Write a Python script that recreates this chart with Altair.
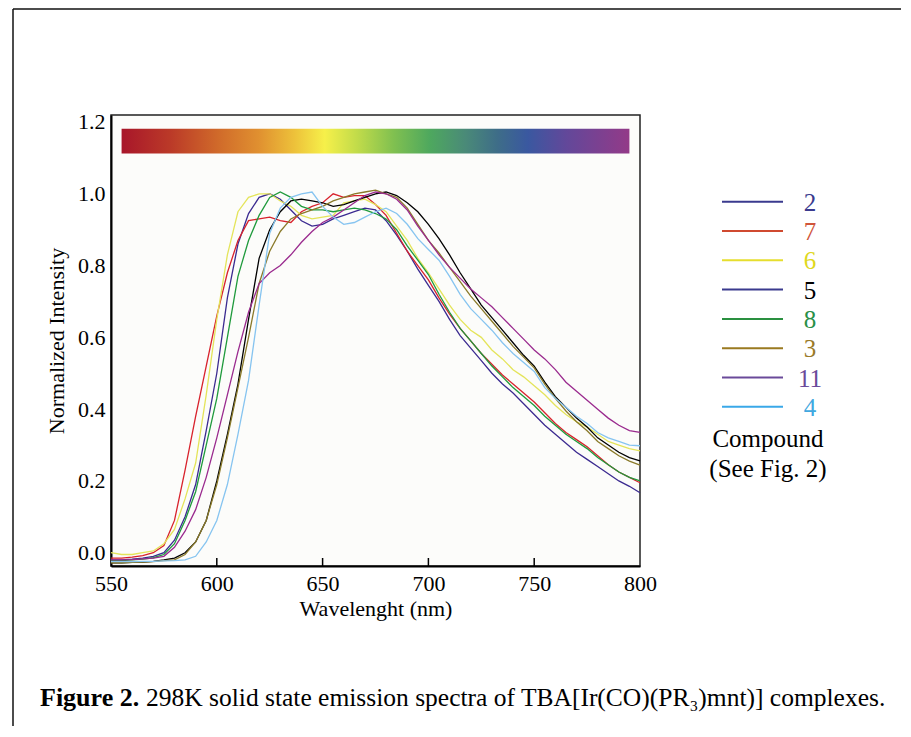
import altair as alt
import pandas as pd

# ---------------- data ----------------
wavelength = list(range(550, 805, 5))

compounds = ["2", "7", "6", "5", "8", "3", "11", "4"]

c2 = [-0.02, -0.02, -0.018, -0.015, -0.01, 0.0, 0.035, 0.10, 0.19, 0.34, 0.50, 0.71, 0.86, 0.945, 0.99, 1.0,
      0.985, 0.955, 0.925, 0.91, 0.915, 0.93, 0.94, 0.95, 0.96, 0.955, 0.925, 0.885, 0.84, 0.79, 0.745,
      0.70, 0.65, 0.605, 0.57, 0.535, 0.50, 0.47, 0.445, 0.415, 0.385, 0.355, 0.33, 0.305, 0.28, 0.26,
      0.24, 0.22, 0.20, 0.185, 0.167]
c7 = [-0.015, -0.015, -0.012, -0.008, 0.0, 0.02, 0.09, 0.23, 0.38, 0.52, 0.66, 0.78, 0.87, 0.925, 0.93, 0.935,
      0.925, 0.92, 0.95, 0.965, 0.975, 1.0, 0.99, 0.995, 0.995, 0.97, 0.94, 0.89, 0.84, 0.80, 0.76,
      0.71, 0.665, 0.625, 0.59, 0.555, 0.525, 0.495, 0.47, 0.445, 0.42, 0.39, 0.36, 0.335, 0.315, 0.295,
      0.27, 0.245, 0.225, 0.21, 0.195]
c6 = [0.0, -0.005, -0.005, 0.0, 0.005, 0.025, 0.065, 0.15, 0.25, 0.44, 0.65, 0.83, 0.95, 0.99, 1.0, 1.0,
      0.98, 0.965, 0.94, 0.93, 0.935, 0.94, 0.975, 0.98, 0.985, 0.97, 0.95, 0.91, 0.87, 0.82, 0.78,
      0.735, 0.69, 0.65, 0.62, 0.60, 0.565, 0.54, 0.51, 0.49, 0.465, 0.44, 0.41, 0.385, 0.365, 0.35,
      0.33, 0.31, 0.30, 0.29, 0.284]
c5 = [-0.028, -0.028, -0.027, -0.026, -0.024, -0.02, -0.015, 0.0, 0.03, 0.09, 0.20, 0.33, 0.47, 0.65, 0.82, 0.90,
      0.95, 0.98, 0.985, 0.98, 0.975, 0.965, 0.97, 0.98, 0.99, 1.0, 1.005, 0.995, 0.975, 0.95, 0.915,
      0.875, 0.83, 0.78, 0.735, 0.69, 0.655, 0.62, 0.585, 0.55, 0.52, 0.475, 0.435, 0.405, 0.375, 0.35,
      0.32, 0.30, 0.28, 0.265, 0.256]
c8 = [-0.022, -0.022, -0.02, -0.018, -0.014, -0.005, 0.025, 0.09, 0.17, 0.30, 0.43, 0.60, 0.77, 0.87, 0.94, 0.99,
      1.005, 0.99, 0.965, 0.955, 0.955, 0.95, 0.955, 0.96, 0.955, 0.945, 0.93, 0.90, 0.855, 0.815, 0.775,
      0.72, 0.67, 0.625, 0.59, 0.555, 0.52, 0.49, 0.46, 0.435, 0.41, 0.38, 0.355, 0.33, 0.31, 0.29,
      0.265, 0.245, 0.225, 0.21, 0.20]
c3 = [-0.028, -0.028, -0.027, -0.026, -0.025, -0.022, -0.02, -0.005, 0.03, 0.09, 0.19, 0.32, 0.46, 0.60, 0.75, 0.84,
      0.895, 0.93, 0.945, 0.955, 0.965, 0.98, 0.99, 1.0, 1.005, 1.01, 1.0, 0.99, 0.96, 0.915, 0.87,
      0.835, 0.795, 0.755, 0.715, 0.68, 0.645, 0.61, 0.575, 0.545, 0.515, 0.47, 0.43, 0.395, 0.365, 0.34,
      0.31, 0.29, 0.27, 0.255, 0.244]
c11 = [-0.02, -0.02, -0.019, -0.017, -0.015, -0.01, 0.015, 0.06, 0.12, 0.21, 0.32, 0.44, 0.56, 0.67, 0.75, 0.78,
       0.80, 0.83, 0.865, 0.895, 0.92, 0.935, 0.955, 0.975, 0.995, 1.005, 1.0, 0.985, 0.955, 0.91, 0.87,
       0.83, 0.795, 0.765, 0.735, 0.71, 0.685, 0.655, 0.625, 0.595, 0.565, 0.54, 0.51, 0.475, 0.45, 0.425,
       0.40, 0.375, 0.355, 0.34, 0.335]
c4 = [-0.025, -0.025, -0.025, -0.024, -0.024, -0.023, -0.022, -0.02, -0.01, 0.03, 0.09, 0.19, 0.33, 0.48, 0.69, 0.89,
      0.96, 0.99, 1.0, 1.005, 0.965, 0.935, 0.915, 0.92, 0.935, 0.95, 0.96, 0.945, 0.915, 0.875, 0.845,
      0.815, 0.77, 0.72, 0.68, 0.65, 0.62, 0.585, 0.555, 0.53, 0.505, 0.46, 0.43, 0.405, 0.38, 0.36,
      0.335, 0.32, 0.31, 0.30, 0.298]

series = {"2": c2, "7": c7, "6": c6, "5": c5, "8": c8, "3": c3, "11": c11, "4": c4}

curve_colors = ["#3b2a90", "#d8222c", "#e4e45a", "#000000", "#1f9a3c", "#8a7a2a", "#9a2a8e", "#86c4f0"]
legend_line_colors = ["#3a3a8e", "#d04a30", "#e6de2e", "#3a3a8e", "#2a9040", "#9a7a20", "#6a4a9a", "#3aa8e8"]
legend_text_colors = ["#3a3a8e", "#d0553a", "#e0d820", "#000000", "#2a9048", "#9a7a28", "#6a4a9a", "#40a8e0"]

spectrum_stops = [(0.0, "#a8162a"), (0.097, "#bb3a28"), (0.19, "#d06a2a"), (0.27, "#e09030"),
                  (0.34, "#edc13a"), (0.40, "#f6f04a"), (0.465, "#c0db4a"), (0.536, "#80c050"),
                  (0.607, "#4ea85e"), (0.677, "#4a8a78"), (0.74, "#3e6d88"), (0.80, "#3a58a0"),
                  (0.875, "#62489a"), (1.0, "#933a88")]
bar_wl = [555, 795]
bar_int = [1.112, 1.181]

x_ticks = [550, 600, 650, 700, 750, 800]
inner_ticks = [600, 650, 700, 750]
y_ticks = [0.0, 0.2, 0.4, 0.6, 0.8, 1.0, 1.2]

caption_bold = "Figure 2."
caption_rest = "298K solid state emission spectra of TBA[Ir(CO)(PR\u2083)mnt)] complexes."

# ---------------- build ----------------
rows = []
for c in compounds:
    for w, v in zip(wavelength, series[c]):
        rows.append({"wavelength": w, "intensity": v, "compound": c})
df = pd.DataFrame(rows)

W, H = 529, 451
FONT = "Liberation Serif"
xscale = alt.Scale(domain=[550, 800], nice=False, zero=False)
yscale = alt.Scale(domain=[-0.037, 1.2195], nice=False, zero=False)
xaxis = alt.Axis(title="Wavelenght (nm)", values=x_ticks, format="d", labelPadding=7, titlePadding=4,
                 labelFlush=False)
yaxis = alt.Axis(title="Normalized Intensity", values=y_ticks, format=".1f", labelPadding=6, titlePadding=9)

lines = alt.Chart(df).mark_line(strokeWidth=1.3).encode(
    x=alt.X("wavelength:Q", scale=xscale, axis=xaxis),
    y=alt.Y("intensity:Q", scale=yscale, axis=yaxis),
    color=alt.Color("compound:N", scale=alt.Scale(domain=compounds, range=curve_colors), legend=None),
    order=alt.Order("wavelength:Q"),
)

bar_df = pd.DataFrame({"wavelength": [bar_wl[0]], "wl_end": [bar_wl[1]],
                       "intensity": [bar_int[0]], "int_end": [bar_int[1]]})
gradient = {"gradient": "linear", "x1": 0, "x2": 1, "y1": 0, "y2": 0,
            "stops": [{"offset": o, "color": c} for o, c in spectrum_stops]}
colorbar = alt.Chart(bar_df).mark_rect(fill=gradient).encode(
    x=alt.X("wavelength:Q", scale=xscale, axis=xaxis), x2="wl_end",
    y=alt.Y("intensity:Q", scale=yscale, axis=yaxis), y2="int_end",
)

tick_df = pd.DataFrame({"wavelength": inner_ticks})
ticks = alt.Chart(tick_df).mark_rule(color="black", strokeWidth=1.5).encode(
    x=alt.X("wavelength:Q", scale=xscale, axis=xaxis),
    y=alt.value(H), y2=alt.value(H - 8),
)

dummy = pd.DataFrame({"k": [0]})
layers = [colorbar, lines, ticks]

# outer figure frame (left and top edges)
layers.append(alt.Chart(dummy).mark_rule(color="#111", strokeWidth=1.5).encode(
    x=alt.value(-98), y=alt.value(-106), y2=alt.value(612)))
layers.append(alt.Chart(dummy).mark_rule(color="#111", strokeWidth=1.5).encode(
    x=alt.value(-98), x2=alt.value(800), y=alt.value(-106)))

# custom legend
for i, (lab, lc, tc) in enumerate(zip(compounds, legend_line_colors, legend_text_colors)):
    yy = 86.7 + i * 29.3
    layers.append(alt.Chart(dummy).mark_rule(color=lc, strokeWidth=2).encode(
        x=alt.value(611), x2=alt.value(672), y=alt.value(yy)))
    layers.append(alt.Chart(dummy).mark_text(text=lab, font=FONT, fontSize=25, color=tc,
                                             align="center", baseline="middle").encode(
        x=alt.value(699), y=alt.value(yy + 1)))
layers.append(alt.Chart(dummy).mark_text(text="Compound", font=FONT, fontSize=25, color="black",
                                         align="center", baseline="middle").encode(
    x=alt.value(657), y=alt.value(324)))
layers.append(alt.Chart(dummy).mark_text(text="(See Fig. 2)", font=FONT, fontSize=25, color="black",
                                         align="center", baseline="middle").encode(
    x=alt.value(657), y=alt.value(354)))

# caption
layers.append(alt.Chart(dummy).mark_text(text=caption_bold, font=FONT, fontSize=26, fontWeight="bold",
                                         color="black", align="left", baseline="middle").encode(
    x=alt.value(-71), y=alt.value(583)))
layers.append(alt.Chart(dummy).mark_text(text=caption_rest, font=FONT, fontSize=25.5, color="black",
                                         align="left", baseline="middle").encode(
    x=alt.value(35), y=alt.value(583)))

chart = alt.layer(*layers).properties(
    width=W, height=H,
    autosize=alt.AutoSizeParams(type="none"),
    padding={"left": 103, "top": 107, "right": 261, "bottom": 160},
    background="white",
).configure_view(
    stroke="#222", strokeWidth=1.5, fill="#fcfcfa"
).configure_axis(
    domainColor="black", domainWidth=2, tickSize=0, grid=False,
    labelFont=FONT, labelFontSize=22, labelColor="black",
    titleFont=FONT, titleFontSize=22, titleFontWeight="normal", titleColor="black",
)

chart.save("out.html", embed_options={"renderer": "svg", "actions": False})
